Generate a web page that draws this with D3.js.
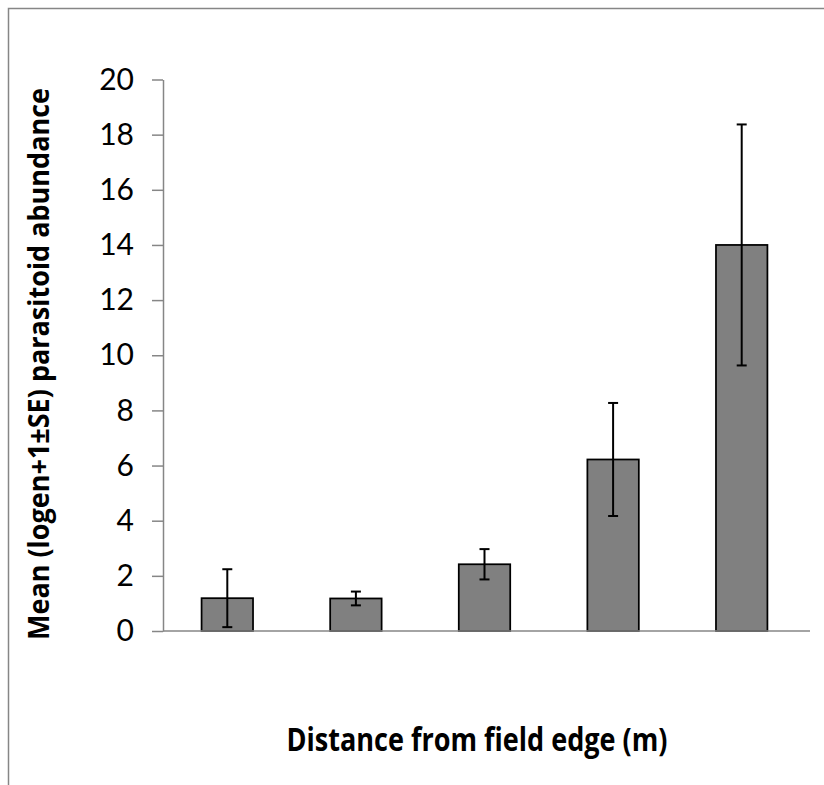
<!DOCTYPE html>
<html>
<head>
<meta charset="utf-8">
<script src="https://cdn.jsdelivr.net/npm/d3@7"></script>
<style>
  html, body { margin: 0; padding: 0; background: #fff; }
  svg { display: block; }
  text { font-variant-ligatures: none; }
</style>
</head>
<body>
<div id="chart"></div>
<script>
// data
const categories = ["1", "2", "3", "4", "5"];
const means = [1.19, 1.18, 2.42, 6.22, 14.0];
const stdErr = [1.05, 0.25, 0.55, 2.05, 4.37];
const yTicks = [0, 2, 4, 6, 8, 10, 12, 14, 16, 18, 20];
const yTitle = "Mean (logen+1\u00b1SE) parasitoid abundance";
const xTitle = "Distance from field edge (m)";

const width = 824;
const height = 785;
const axisColor = "#868686";

const svg = d3.select("#chart")
  .append("svg")
  .attr("width", width)
  .attr("height", height);

// chart area border (runs off the right and bottom edges)
svg.append("rect")
  .attr("x", 8.5)
  .attr("y", 8.5)
  .attr("width", width + 20)
  .attr("height", height + 20)
  .attr("fill", "#fff")
  .attr("stroke", axisColor)
  .attr("stroke-width", 1.5);

const x = d3.scaleBand()
  .domain(categories)
  .range([163, 806])
  .paddingInner(0.6)
  .paddingOuter(0.3);

const y = d3.scaleLinear()
  .domain([0, 20])
  .range([631, 79.5]);

// y axis
const yAxis = svg.append("g")
  .attr("transform", "translate(163,0)")
  .call(d3.axisLeft(y).tickValues(yTicks).tickSize(11).tickPadding(18).tickSizeOuter(0));
yAxis.select(".domain").attr("stroke", axisColor).attr("stroke-width", 1.5);
yAxis.selectAll(".tick line").attr("stroke", axisColor).attr("stroke-width", 1.5);
yAxis.selectAll(".tick text")
  .attr("fill", "#000")
  .style("font-family", "Lato, 'Open Sans', sans-serif")
  .style("font-size", "30px");

// bars
svg.append("g")
  .selectAll("rect")
  .data(means)
  .join("rect")
  .attr("x", (d, i) => x(categories[i]))
  .attr("y", d => y(d))
  .attr("width", x.bandwidth())
  .attr("height", d => y(0) - y(d))
  .attr("fill", "#808080")
  .attr("stroke", "#000")
  .attr("stroke-width", 1.75);

// x axis baseline
svg.append("line")
  .attr("x1", 163)
  .attr("x2", 810)
  .attr("y1", y(0))
  .attr("y2", y(0))
  .attr("stroke", axisColor)
  .attr("stroke-width", 1.5);

// error bars
const err = svg.append("g")
  .attr("stroke", "#000")
  .attr("stroke-width", 2)
  .selectAll("g")
  .data(means)
  .join("g")
  .attr("transform", (d, i) => `translate(${x(categories[i]) + x.bandwidth() / 2},0)`);

err.append("line")
  .attr("y1", (d, i) => y(d + stdErr[i]))
  .attr("y2", (d, i) => y(d - stdErr[i]));
err.append("line")
  .attr("x1", -5).attr("x2", 5)
  .attr("y1", (d, i) => y(d + stdErr[i]))
  .attr("y2", (d, i) => y(d + stdErr[i]));
err.append("line")
  .attr("x1", -5).attr("x2", 5)
  .attr("y1", (d, i) => y(d - stdErr[i]))
  .attr("y2", (d, i) => y(d - stdErr[i]));

// axis titles
svg.append("text")
  .attr("transform", "translate(49,364) rotate(-90)")
  .attr("text-anchor", "middle")
  .attr("textLength", 552)
  .attr("lengthAdjust", "spacingAndGlyphs")
  .style("font-family", "'Open Sans', Lato, sans-serif")
  .style("font-weight", "bold")
  .style("font-size", "29px")
  .text(yTitle);

svg.append("text")
  .attr("x", 477)
  .attr("y", 751)
  .attr("text-anchor", "middle")
  .attr("textLength", 381)
  .attr("lengthAdjust", "spacingAndGlyphs")
  .style("font-family", "'Open Sans', Lato, sans-serif")
  .style("font-weight", "bold")
  .style("font-size", "32px")
  .text(xTitle);
</script>
</body>
</html>
